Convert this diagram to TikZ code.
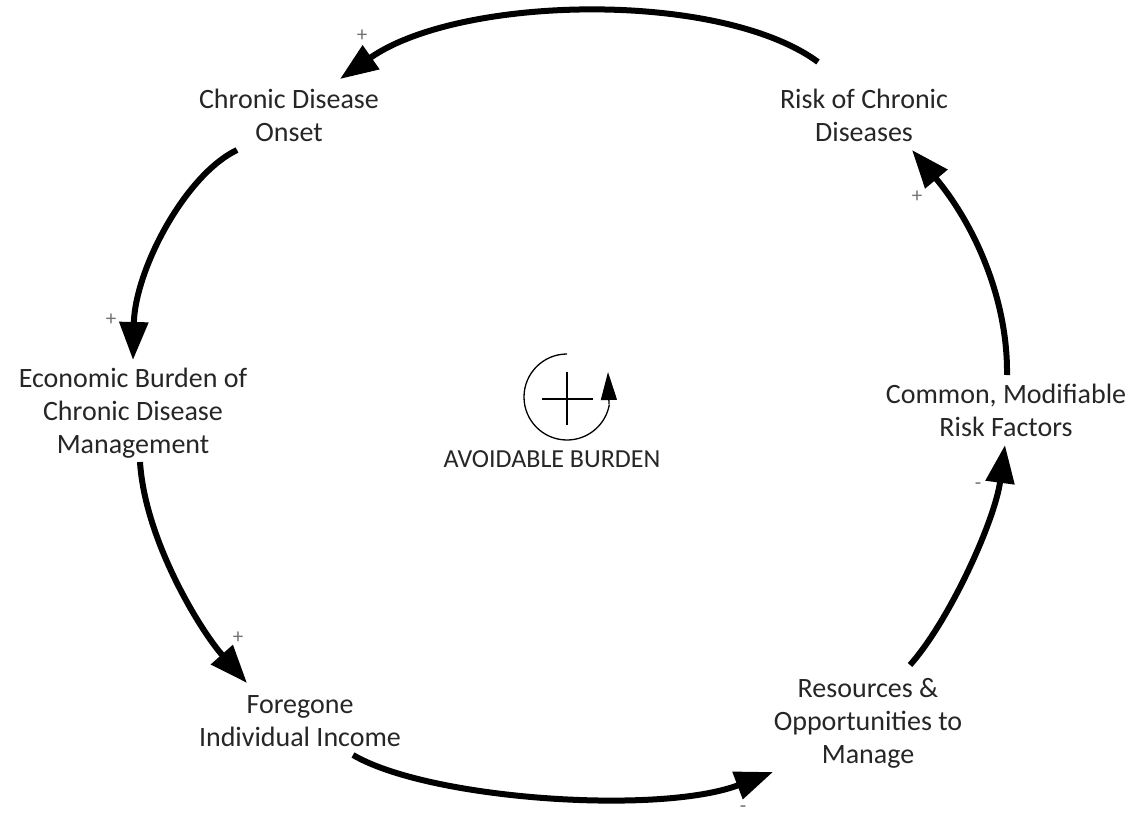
\documentclass[tikz,border=0pt]{standalone}
\usepackage{fontspec}
\setmainfont{Carlito}
\usetikzlibrary{arrows.meta,calc}
\tikzset{
  var/.style={align=center, inner sep=0pt, font=\fontsize{28}{33}\selectfont, text=black!85},
  link/.style={line width=6pt, -{Triangle[length=38pt,width=28pt]}},
  pol/.style={inner sep=0pt, font=\fontsize{21}{21}\selectfont, text=black!55},
}
\begin{document}
\begin{tikzpicture}[x=1pt,y=-1pt]
\useasboundingbox (0,0) rectangle (1130,816);
\fill[white] (0,0) rectangle (1130,816);

% variables
\node[var] (onset) at (289,115) {Chronic Disease\\Onset};
\node[var] (risk) at (864,115) {Risk of Chronic\\Diseases};
\node[var] (econ) at (133,413) {Economic Burden of\\Chronic Disease\\Management};
\node[var] (common) at (1006,410) {Common, Modifiable\\Risk Factors};
\node[var] (income) at (300,721) {Foregone\\Individual Income};
\node[var] (resources) at (868,723) {Resources \&\\Opportunities to\\Manage};
\node[var, font=\fontsize{26}{30}\selectfont] (loop) at (552,459) {AVOIDABLE BURDEN};

% causal links
\draw[link] ([shift={(-46,-53)}]risk.center) .. controls (720,-10) and (460,-5) .. ([shift={(51,-36)}]onset.center);
\draw[link] ([shift={(-52,35)}]onset.center) .. controls (185,175) and (135,270) .. ([shift={(0,-53)}]econ.center);
\draw[link] ([shift={(7,49)}]econ.center) .. controls (145,540) and (200,630) .. ([shift={(-53,-38)}]income.center);
\draw[link] ([shift={(53,34)}]income.center) .. controls (430,800) and (660,815) .. ([shift={(-95,49)}]resources.center);
\draw[link] ([shift={(42,-58)}]resources.center) .. controls (950,620) and (995,520) .. ([shift={(-1,35)}]common.center);
\draw[link] ([shift={(1,-35)}]common.center) .. controls (1008,300) and (975,225) .. ([shift={(48,35)}]risk.center);

% link polarities
\node[pol] (p1) at (362,36) {+};
\node[pol] (p2) at (111,320) {+};
\node[pol] (p3) at (238,638) {+};
\node[pol] (p4) at (743,809) {-};
\node[pol] (p5) at (978,486) {-};
\node[pol] (p6) at (917,197) {+};

% reinforcing loop marker
\coordinate (lc) at (567,397);
\draw[line width=1.3pt] ($(lc)+(0,-43)$) arc[start angle=-90, end angle=-350, radius=43];
\draw[line width=1.3pt, -{Triangle[length=28pt,width=16pt]}] ($(lc)+(42,7)$) -- ($(lc)+(41,-25)$);
\draw[line width=2.2pt] (542,399) -- (593,399) (567,372) -- (567,425);
\end{tikzpicture}
\end{document}
